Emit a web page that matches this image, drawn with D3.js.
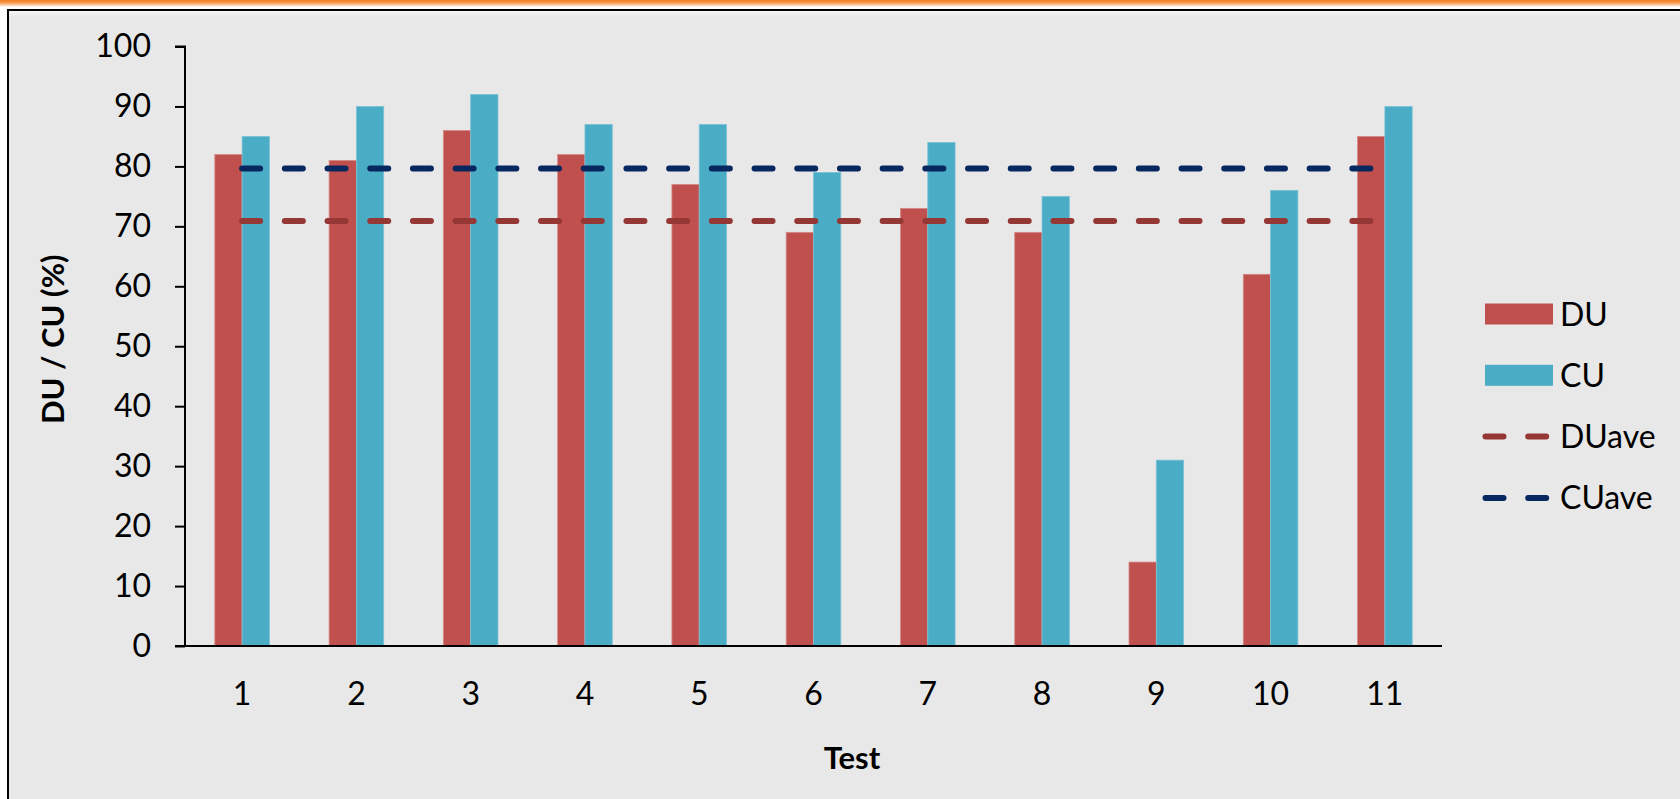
<!DOCTYPE html>
<html>
<head>
<meta charset="utf-8">
<script src="https://cdn.jsdelivr.net/npm/d3@7"></script>
<style>
  html, body { margin: 0; padding: 0; background: #ffffff; }
  svg { display: block; }
  text { font-family: Lato, "Open Sans", sans-serif; fill: #000; }
</style>
</head>
<body>
<svg id="chart" width="1680" height="799"></svg>
<script>
// ---- data ----
const tests = ["1", "2", "3", "4", "5", "6", "7", "8", "9", "10", "11"];
const duValues = [82, 81, 86, 82, 77, 69, 73, 69, 14, 62, 85];
const cuValues = [85, 90, 92, 87, 87, 79, 84, 75, 31, 76, 90];
const duAve = d3.mean(duValues);
const cuAve = d3.mean(cuValues);
const yTicks = [0, 10, 20, 30, 40, 50, 60, 70, 80, 90, 100];
const seriesNames = ["DU", "CU"];
const legendNames = ["DU", "CU", "DUave", "CUave"];

// ---- styles ----
const colors = { DU: "#c0504d", CU: "#4bacc6", DUave: "#953735", CUave: "#06275f" };
const edge = { DU: "#d48a88", CU: "#7cc3d6" };

const svg = d3.select("#chart");

// top orange strip
const defs = svg.append("defs");
const grad = defs.append("linearGradient").attr("id", "topg").attr("x1", 0).attr("y1", 0).attr("x2", 0).attr("y2", 1);
grad.append("stop").attr("offset", "0%").attr("stop-color", "#f47a20");
grad.append("stop").attr("offset", "45%").attr("stop-color", "#f6a15c");
grad.append("stop").attr("offset", "100%").attr("stop-color", "#ffffff");
svg.append("rect").attr("x", 0).attr("y", 0).attr("width", 1680).attr("height", 7).attr("fill", "url(#topg)");

// chart area
svg.append("rect").attr("x", 8).attr("y", 10).attr("width", 1700).attr("height", 820)
  .attr("fill", "#e8e8e8").attr("stroke", "#000").attr("stroke-width", 2);
const sh = defs.append("linearGradient").attr("id", "shade").attr("x1", 0).attr("y1", 0).attr("x2", 0).attr("y2", 1);
sh.append("stop").attr("offset", "0%").attr("stop-color", "#f6f6f6");
sh.append("stop").attr("offset", "100%").attr("stop-color", "#e8e8e8");
svg.append("rect").attr("x", 9).attr("y", 11).attr("width", 1680).attr("height", 6).attr("fill", "url(#shade)");

// ---- scales ----
const plotLeft = 185, plotRight = 1442, plotTop = 46.5, plotBottom = 646;
const x0 = d3.scaleBand().domain(tests).range([plotLeft, plotRight]).padding(0);
const bw = x0.bandwidth();
const x1 = d3.scaleBand().domain(seriesNames).range([bw * (0.5 - 0.239), bw * (0.5 + 0.239)]).padding(0);
const y = d3.scaleLinear().domain([0, 100]).range([plotBottom, plotTop]);

// ---- bars ----
const groups = svg.append("g").selectAll("g").data(tests).join("g")
  .attr("transform", d => `translate(${x0(d)},0)`);
groups.selectAll("rect")
  .data((d, i) => seriesNames.map(s => ({ s, v: s === "DU" ? duValues[i] : cuValues[i] })))
  .join("rect")
  .attr("x", d => x1(d.s))
  .attr("y", d => y(d.v))
  .attr("width", x1.bandwidth())
  .attr("height", d => y(0) - y(d.v))
  .attr("fill", d => colors[d.s])
  .attr("stroke", d => edge[d.s])
  .attr("stroke-width", 0.8);

// ---- average lines ----
const xStart = x0(tests[0]) + bw / 2;
const xEnd = x0(tests[tests.length - 1]) + bw / 2;
[["DUave", duAve], ["CUave", cuAve]].forEach(([k, v]) => {
  svg.append("line")
    .attr("x1", xStart).attr("x2", xEnd)
    .attr("y1", y(v)).attr("y2", y(v))
    .attr("stroke", colors[k]).attr("stroke-width", 6)
    .attr("stroke-linecap", "round")
    .attr("stroke-dasharray", "18 24.7");
});

// ---- axes ----
const yAxis = d3.axisLeft(y).tickValues(yTicks).tickSize(10).tickPadding(24);
const gy = svg.append("g").attr("transform", `translate(${plotLeft},0)`).call(yAxis);
gy.select(".domain").attr("stroke", "#000").attr("stroke-width", 2).attr("d", `M-10,${plotTop}H0V${plotBottom}H-10`);
gy.selectAll(".tick line").attr("stroke", "#000").attr("stroke-width", 2);
gy.selectAll(".tick text").attr("font-size", 32).attr("font-family", "Lato, sans-serif").attr("fill", "#000");

const xAxis = d3.axisBottom(x0).tickSize(0).tickPadding(36);
const gx = svg.append("g").attr("transform", `translate(0,${plotBottom})`).call(xAxis);
gx.select(".domain").attr("stroke", "#000").attr("stroke-width", 2).attr("d", `M${plotLeft},0H${plotRight}`);
gx.selectAll(".tick text").attr("font-size", 32).attr("font-family", "Lato, sans-serif").attr("fill", "#000");

// ---- axis titles ----
svg.append("text")
  .attr("transform", `translate(64,${(plotTop + plotBottom) / 2 - 7}) rotate(-90)`)
  .attr("text-anchor", "middle")
  .attr("font-size", 31).attr("font-weight", "bold")
  .text("DU / CU (%)");
svg.append("text")
  .attr("x", 852).attr("y", 769)
  .attr("text-anchor", "middle")
  .attr("font-size", 31).attr("font-weight", "bold")
  .text("Test");

// ---- legend ----
const lg = svg.append("g");
legendNames.forEach((k, i) => {
  const cy = 314 + i * 61.3;
  if (k === "DU" || k === "CU") {
    lg.append("rect").attr("x", 1485).attr("y", cy - 10.5).attr("width", 68).attr("height", 21).attr("fill", colors[k]);
  } else {
    lg.append("line").attr("x1", 1485.5).attr("x2", 1546.5).attr("y1", cy).attr("y2", cy)
      .attr("stroke", colors[k]).attr("stroke-width", 6).attr("stroke-linecap", "round")
      .attr("stroke-dasharray", "18 24.7");
  }
  lg.append("text").attr("x", 1560).attr("y", cy + 11.5).attr("font-size", 32).text(k);
});
</script>
</body>
</html>
